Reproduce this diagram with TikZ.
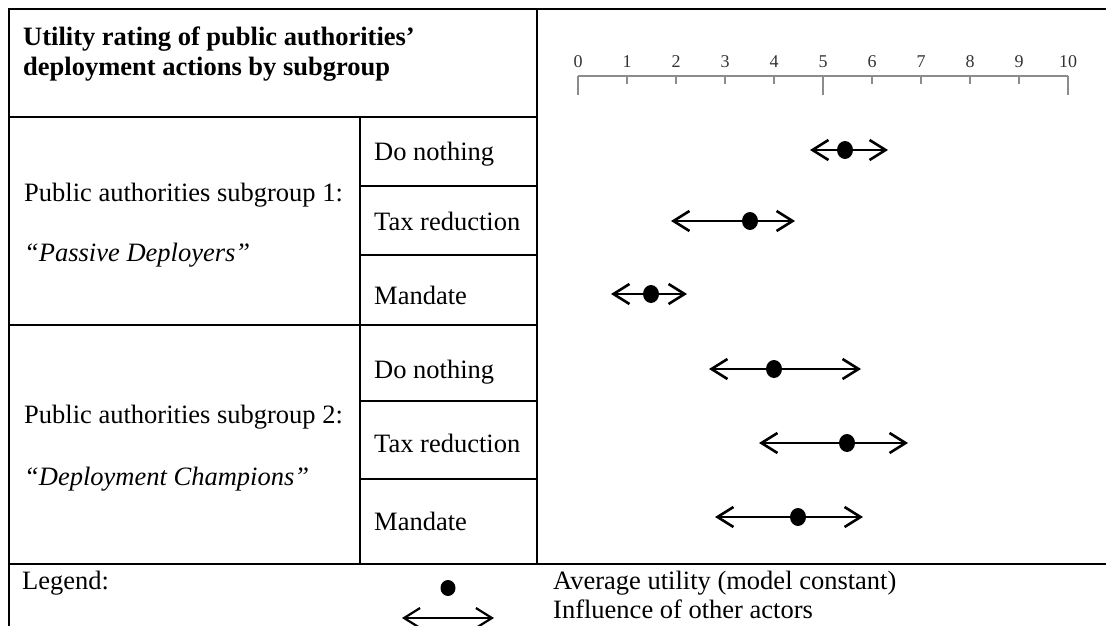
\documentclass[tikz,border=0pt]{standalone}
\usepackage{fontspec}
\setmainfont{Liberation Serif}
\usetikzlibrary{arrows.meta,shapes.geometric}
\begin{document}
\begin{tikzpicture}[x=1pt,y=-1pt,
  rule/.style={line width=2.8pt, line cap=rect},
  txt/.style={anchor=base west, inner sep=0pt, font=\fontsize{26.5}{30}\selectfont},
  titletxt/.style={txt, font=\fontsize{26.5}{30}\selectfont\bfseries},
  ticklabel/.style={anchor=base, inner sep=0pt, text=black!80, font=\fontsize{18}{20}\selectfont},
  axisline/.style={line width=1.3pt, black!45},
  barb/.style={Straight Barb[length=16pt,width=20pt]},
  rangebar/.style={line width=2.6pt, {Straight Barb[length=16pt,width=20pt]}-{Straight Barb[length=16pt,width=20pt]}},
  avgdot/.style={ellipse, fill=black, draw=none, minimum width=16pt, minimum height=18pt, inner sep=0pt},
]
\useasboundingbox (0,0) rectangle (1106,626);

% table rules
\draw[rule] (9,626) -- (9,9) -- (1106,9);
\draw[rule] (537,9) -- (537,564);
\draw[rule] (9,117) -- (537,117);
\draw[rule] (360,117) -- (360,564);
\draw[rule] (360,186) -- (537,186);
\draw[rule] (360,255) -- (537,255);
\draw[rule] (9,325) -- (537,325);
\draw[rule] (360,401) -- (537,401);
\draw[rule] (360,479) -- (537,479);
\draw[rule] (9,564) -- (1106,564);

% heading
\node[titletxt] (title1) at (23,46) {Utility rating of public authorities’};
\node[titletxt] (title2) at (23,76) {deployment actions by subgroup};

% subgroups
\node[txt] (g1a) at (24,201) {Public authorities subgroup 1:};
\node[txt] (g1b) at (24,261) {\itshape “Passive Deployers”};
\node[txt] (g2a) at (24,423) {Public authorities subgroup 2:};
\node[txt] (g2b) at (24,485) {\itshape “Deployment Champions”};

% actions
\node[txt] (r1) at (374,160) {Do nothing};
\node[txt] (r2) at (374,230) {Tax reduction};
\node[txt] (r3) at (374,304) {Mandate};
\node[txt] (r4) at (374,378) {Do nothing};
\node[txt] (r5) at (374,452) {Tax reduction};
\node[txt] (r6) at (374,530) {Mandate};

% utility scale 0..10
\draw[axisline] (578,76) -- (1068,76);
\foreach \v in {0,...,10} {
  \node[ticklabel] (lab\v) at ({578+49*\v},68) {\v};
  \draw[axisline] ({578+49*\v},76) -- ({578+49*\v},84);
}
\foreach \v in {0,5,10} {
  \draw[axisline] ({578+49*\v},76) -- ({578+49*\v},95);
}

% ranges and averages
\coordinate (a1l) at (810,150); \coordinate (a1r) at (888,150);
\coordinate (a2l) at (671,221); \coordinate (a2r) at (795,221);
\coordinate (a3l) at (611,294); \coordinate (a3r) at (687,294);
\coordinate (a4l) at (709,369); \coordinate (a4r) at (861,369);
\coordinate (a5l) at (759,443); \coordinate (a5r) at (908,443);
\coordinate (a6l) at (715,517); \coordinate (a6r) at (863,517);
\foreach \i in {1,...,6} { \draw[rangebar] (a\i l) -- (a\i r); }
\node[avgdot] (d1) at (845,150) {};
\node[avgdot] (d2) at (750,221) {};
\node[avgdot] (d3) at (651,294) {};
\node[avgdot] (d4) at (774,369) {};
\node[avgdot] (d5) at (847,443) {};
\node[avgdot] (d6) at (798,517) {};

% legend
\node[txt] (leg) at (22,589) {Legend:};
\node[avgdot, minimum width=15pt, minimum height=16pt] (legdot) at (448,588) {};
\coordinate (legl) at (402,618); \coordinate (legr) at (494,618);
\draw[rangebar, line width=2.2pt] (legl) -- (legr);
\node[txt] (legdottxt) at (553,589) {Average utility (model constant)};
\node[txt] (legbartxt) at (553,618) {Influence of other actors};
\end{tikzpicture}
\end{document}
